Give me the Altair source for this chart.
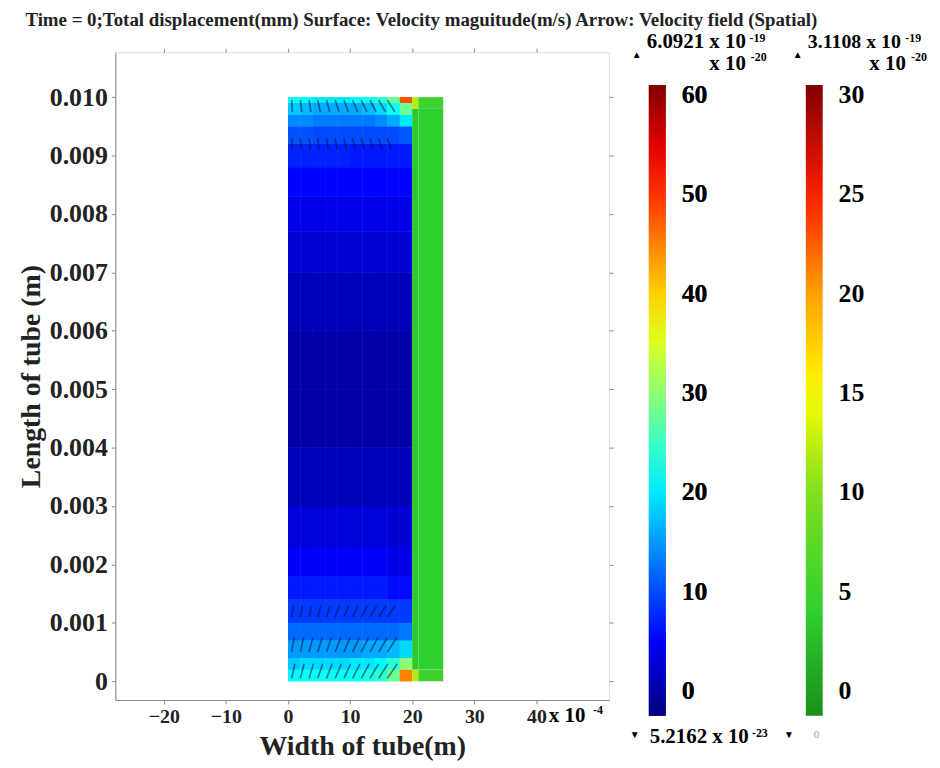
import altair as alt
import pandas as pd

FONT = "Liberation Serif"

title_text = ("Time = 0;Total displacement(mm) Surface: Velocity maguitude(m/s) "
              "Arrow: Velocity field (Spatial)")
x_title = "Width of tube(m)"
y_title = "Length of tube (m)"

x_ticks = [-20, -10, 0, 10, 20, 30, 40]
y_ticks = [0, 0.001, 0.002, 0.003, 0.004, 0.005, 0.006, 0.007, 0.008, 0.009, 0.010]
x_domain = [-27.8, 51.7]
y_domain = [-0.00032, 0.01077]

# velocity magnitude in the fluid (x 1e-4 m columns, y rows from bottom to top)
fluid_x_edges = [0, 2, 4, 6, 8, 10, 12, 14, 16, 18, 20]
fluid_y_edges = [0, 0.0002, 0.0004, 0.0007, 0.001, 0.0014, 0.0018, 0.0023, 0.003,
                 0.004, 0.005, 0.006, 0.007, 0.0077, 0.0083, 0.0088, 0.0092,
                 0.0095, 0.0097, 0.0099, 0.010]
fluid_values = [
    [21, 22, 22, 22, 22, 22, 23, 24, 28, 45],
    [18, 19, 19, 19, 19, 20, 20, 21, 24, 30],
    [15, 15, 15, 15, 15, 15, 16, 16, 17, 19],
    [12, 12, 12, 12, 12, 12, 12, 12, 12, 13],
    [9, 9, 9, 9, 9, 9, 9, 9, 9, 9],
    [7, 7, 7, 7, 7, 7, 7, 7, 6, 6],
    [5, 5, 5, 5, 5, 5, 5, 5, 4, 4],
    [3, 3, 3, 3, 3, 3, 3, 3, 2.5, 2.5],
    [1, 1, 1, 1, 1, 1, 1, 1, 1, 1],
    [0, 0, 0, 0, 0, 0, 0, 0, 0, 0],
    [0, 0, 0, 0, 0, 0, 0, 0, 0, 0],
    [1, 1, 1, 1, 1, 1, 1, 1, 1, 1],
    [2.5, 2.5, 2.5, 2.5, 2.5, 2.5, 2.5, 2.5, 2.5, 2.5],
    [4, 4, 4, 4, 4, 4, 4, 4, 4, 4],
    [5.5, 5.5, 5.5, 5.5, 5.5, 5.5, 5.5, 5.5, 5.5, 5.5],
    [7.5, 7.5, 7.5, 7.5, 7.5, 7, 7, 7, 7, 7],
    [10.5, 10.5, 10, 10, 10, 10, 10, 10, 10, 11],
    [14, 14, 13, 13, 13, 13, 13, 14, 16, 20],
    [18, 17, 16, 16, 16, 16, 17, 19, 22, 28],
    [22, 21, 20, 20, 20, 21, 22, 24, 28, 48],
]

# displacement in the tube wall
wall_x_edges = [20, 21, 25]
wall_y_edges = [0, 0.0002, 0.0098, 0.010]
wall_values = [
    [12, 5],
    [3.5, 4],
    [12, 5],
]

# colour bars
jet_stops = [-2.5, 5.4, 21.3, 37.2, 53.1, 61]
jet_colors = ["#000080", "#0000ff", "#00ffff", "#ffff00", "#ff0000", "#800000"]
jet_labels = [0, 10, 20, 30, 40, 50, 60]

wall_stops = [-1.25, 4, 10, 15, 20, 25, 30.5]
wall_colors = ["#1a8f1a", "#2fcf2f", "#80e020", "#ffff00", "#ffa000", "#ff1a00", "#800000"]
wall_labels = [0, 5, 10, 15, 20, 25, 30]

# velocity arrows: start point and end point
arrow_x0 = [0.6, 2.0, 3.4, 4.8, 6.2, 7.6, 9.0, 10.4, 11.8, 13.2, 14.6, 16.0]
arrow_rows_y0 = [0.00995, 0.0093, 0.00005, 0.0005, 0.0011]
arrow_rows_y1 = [0.00975, 0.0091, 0.0003, 0.00075, 0.0013]
arrow_rows_dx = [
    [0.1, 0.2, 0.3, 0.4, 0.5, 0.6, 0.7, 0.8, 0.9, 1.0, 1.1, 1.2],
    [0.1, 0.1, 0.2, 0.2, 0.3, 0.3, 0.4, 0.4, 0.5, 0.5, 0.6, 0.6],
    [0.5, 0.6, 0.7, 0.8, 0.9, 1.0, 1.1, 1.2, 1.3, 1.4, 1.5, 1.6],
    [0.4, 0.5, 0.6, 0.7, 0.8, 0.9, 1.0, 1.1, 1.2, 1.3, 1.4, 1.5],
    [0.3, 0.3, 0.4, 0.5, 0.6, 0.7, 0.8, 0.9, 1.0, 1.1, 1.2, 1.3],
]

# ---------------------------------------------------------------- tables
fluid_rows = []
for i in range(len(fluid_y_edges) - 1):
    for j in range(len(fluid_x_edges) - 1):
        fluid_rows.append({"x": fluid_x_edges[j], "x2": fluid_x_edges[j + 1],
                           "y": fluid_y_edges[i], "y2": fluid_y_edges[i + 1],
                           "v": fluid_values[i][j]})
fluid_df = pd.DataFrame(fluid_rows)

wall_rows = []
for i in range(len(wall_y_edges) - 1):
    for j in range(len(wall_x_edges) - 1):
        wall_rows.append({"x": wall_x_edges[j], "x2": wall_x_edges[j + 1],
                          "y": wall_y_edges[i], "y2": wall_y_edges[i + 1],
                          "w": wall_values[i][j]})
wall_df = pd.DataFrame(wall_rows)

arrow_rows = []
for r in range(len(arrow_rows_y0)):
    for k, x0 in enumerate(arrow_x0):
        arrow_rows.append({"x": x0, "x2": x0 + arrow_rows_dx[r][k],
                           "y": arrow_rows_y0[r], "y2": arrow_rows_y1[r]})
arrow_df = pd.DataFrame(arrow_rows)

xs = alt.Scale(domain=x_domain, nice=False, zero=False)
ys = alt.Scale(domain=y_domain, nice=False, zero=False)

AX_GRAY = "#8a8a8a"

jet_scale = alt.Scale(domain=jet_stops, range=jet_colors, interpolate="rgb")
wall_scale = alt.Scale(domain=wall_stops, range=wall_colors, interpolate="rgb")


def bar_legend(x, labels):
    return alt.Legend(
        orient="none", legendX=x, legendY=33, direction="vertical",
        gradientLength=635, gradientThickness=17, title=None,
        values=labels, labelFont=FONT, labelFontWeight="bold",
        labelFontSize=26, labelColor="black", labelOffset=16,
        labelOverlap=False, gradientStrokeWidth=0, padding=0)


fluid = alt.Chart(fluid_df).mark_rect().encode(
    x=alt.X("x:Q", scale=xs, axis=alt.Axis(
        values=x_ticks, format="d", title=x_title, grid=False,
        labelFont=FONT, labelFontWeight="bold", labelFontSize=20, labelColor="#222",
        titleFont=FONT, titleFontWeight="bold", titleFontSize=28, titleColor="#222",
        tickColor=AX_GRAY, domainColor=AX_GRAY, tickSize=4, labelPadding=3,
        titlePadding=6, labelFlush=False)),
    x2="x2:Q",
    y=alt.Y("y:Q", scale=ys, axis=alt.Axis(
        values=y_ticks, title=y_title, grid=False,
        labelExpr="datum.value == 0 ? '0' : format(datum.value, '.3f')",
        labelFont=FONT, labelFontWeight="bold", labelFontSize=26, labelColor="#222",
        titleFont=FONT, titleFontWeight="bold", titleFontSize=28, titleColor="#222",
        tickColor=AX_GRAY, domainColor=AX_GRAY, tickSize=4, labelPadding=4,
        titlePadding=4, labelFlush=False)),
    y2="y2:Q",
    color=alt.Color("v:Q", scale=jet_scale, legend=bar_legend(537, jet_labels)),
)

# same cells drawn a second time to hide anti-aliasing seams between them
fluid_fill = alt.Chart(fluid_df).mark_rect().encode(
    x=alt.X("x:Q", scale=xs, axis=None), x2="x2:Q",
    y=alt.Y("y:Q", scale=ys, axis=None), y2="y2:Q",
    color=alt.Color("v:Q", scale=jet_scale, legend=bar_legend(537, jet_labels)),
)

wall = alt.Chart(wall_df).mark_rect().encode(
    x=alt.X("x:Q", scale=xs, axis=None), x2="x2:Q",
    y=alt.Y("y:Q", scale=ys, axis=None), y2="y2:Q",
    color=alt.Color("w:Q", scale=wall_scale, legend=bar_legend(695, wall_labels)),
)

arrows = alt.Chart(arrow_df).mark_rule(color="#0a1030", opacity=0.55, strokeWidth=1.6).encode(
    x=alt.X("x:Q", scale=xs, axis=alt.Axis(
        orient="top", values=x_ticks, labels=False, title=None, grid=False,
        tickColor=AX_GRAY, domain=False, tickSize=4)),
    x2="x2:Q",
    y=alt.Y("y:Q", scale=ys, axis=alt.Axis(
        orient="right", values=y_ticks, labels=False, title=None, grid=False,
        tickColor=AX_GRAY, domain=False, tickSize=4)),
    y2="y2:Q",
)

one = pd.DataFrame({"k": [0]})


def note(text, x, y, size, color="black", weight="bold"):
    return alt.Chart(one).mark_text(
        text=text, align="left", baseline="middle", font=FONT, fontSize=size,
        fontWeight=weight, color=color).encode(
        x=alt.XDatum(x, scale=xs, axis=None),
        y=alt.YDatum(y, scale=ys, axis=None))


notes = [
    note("6.0921 x 10", 57.76, 0.010949, 21),
    note("-19", 74.3, 0.011008, 12),
    note("x 10", 67.84, 0.010574, 21),
    note("-20", 74.5, 0.010685, 12),
    note("\u25b2", 55.36, 0.010714, 10),
    note("3.1108 x 10", 83.68, 0.010949, 20),
    note("-19", 99.4, 0.011008, 12),
    note("x 10", 93.6, 0.010574, 21),
    note("-20", 100.3, 0.010685, 12),
    note("\u25b2", 81.28, 0.010714, 10),
    note("\u25bc", 55.04, -0.000918, 10),
    note("5.2162 x 10", 58.24, -0.000952, 21),
    note("-23", 74.7, -0.000884, 12),
    note("\u25bc", 79.84, -0.000918, 10),
    note("0", 84.64, -0.000918, 11, color="#999999", weight="normal"),
    note("x 10", 42.0, -0.000595, 21),
    note("-4", 49.1, -0.000493, 12),
]

chart = alt.layer(fluid, fluid_fill, wall, arrows, *notes).resolve_scale(
    color="independent"
).resolve_axis(
    x="independent", y="independent"
).properties(
    width=497, height=652,
    padding={"left": 9, "top": 0, "right": 5, "bottom": 5},
    title=alt.TitleParams(text=title_text, anchor="start", frame="bounds",
                          font=FONT, fontSize=19, fontWeight="bold", color="#222",
                          dx=8, offset=1),
).configure_view(stroke=AX_GRAY, strokeWidth=1.5).configure(background="white")

chart.save("out.html", embed_options={"renderer": "svg", "actions": False})
